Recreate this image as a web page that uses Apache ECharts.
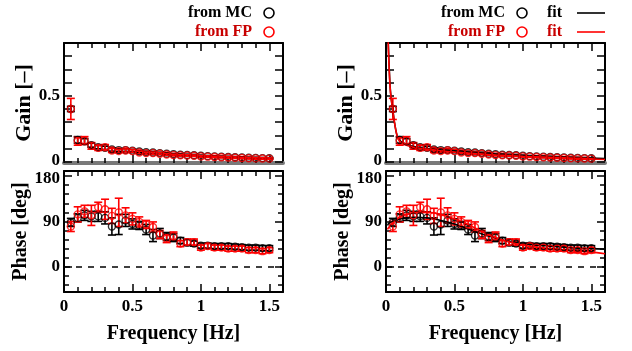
<!DOCTYPE html>
<html><head><meta charset="utf-8">
<script src="https://cdn.jsdelivr.net/npm/echarts@6/dist/echarts.min.js"></script>
<style>html,body{margin:0;padding:0;background:#fff}#c{width:632px;height:351px}</style>
</head><body><div id="c"></div>
<script>
// ---------- data ----------
const freq = [0.05,0.10,0.15,0.20,0.25,0.30,0.35,0.40,0.45,0.50,0.55,0.60,0.65,0.70,0.75,0.80,0.85,0.90,0.95,1.00,1.05,1.10,1.15,1.20,1.25,1.30,1.35,1.40,1.45,1.50];

const gainMC    = [0.40,0.165,0.155,0.125,0.11,0.105,0.092,0.088,0.088,0.084,0.077,0.072,0.07,0.065,0.06,0.056,0.053,0.051,0.049,0.045,0.042,0.04,0.038,0.036,0.034,0.032,0.03,0.029,0.027,0.026];
const gainMCErr = [0.02,0.025,0.02,0.015,0.012,0.012,0.012,0.01,0.01,0.01,0.008,0.008,0.008,0.007,0.007,0.006,0.006,0.006,0.006,0.005,0.005,0.005,0.005,0.005,0.005,0.005,0.005,0.005,0.005,0.005];
const gainFP    = [0.40,0.155,0.16,0.12,0.105,0.11,0.085,0.08,0.085,0.08,0.07,0.065,0.065,0.06,0.055,0.05,0.048,0.047,0.045,0.04,0.038,0.036,0.034,0.032,0.03,0.028,0.026,0.025,0.024,0.023];
const gainFPErr = [0.08,0.03,0.03,0.025,0.02,0.02,0.015,0.012,0.012,0.01,0.01,0.008,0.008,0.008,0.007,0.007,0.006,0.006,0.006,0.006,0.006,0.006,0.006,0.006,0.006,0.006,0.006,0.006,0.006,0.006];

const phaseMC    = [88,97,102,100,100,97,80,84,92,85,82,74,62,66,60,58,52,48,46,42,42,41,41,41,40,39,38,38,37,37];
const phaseMCErr = [8,8,10,10,10,12,17,20,12,10,8,10,12,10,8,8,6,6,5,5,5,5,5,5,5,5,5,5,5,5];
const phaseFP    = [80,104,110,102,118,114,101,108,102,95,89,84,79,64,56,61,46,49,49,38,41,38,38,36,36,36,33,33,31,33];
const phaseFPErr = [10,15,12,20,10,20,15,28,15,12,10,8,10,8,8,8,6,6,6,5,5,5,5,5,5,5,5,5,5,5];

// fit curves (right panels)
const fitFreq     = [0.012,0.015,0.02,0.03,0.04,0.05,0.06,0.08,0.10,0.15,0.20,0.30,0.40,0.50,0.60,0.70,0.80,0.90,1.00,1.10,1.20,1.30,1.40,1.50,1.60];
const fitGainMC   = [1.10,0.95,0.80,0.57,0.46,0.39,0.31,0.20,0.16,0.13,0.115,0.1,0.09,0.082,0.074,0.066,0.058,0.052,0.047,0.042,0.038,0.034,0.03,0.027,0.024];
const fitGainFP   = [1.10,0.95,0.78,0.56,0.46,0.39,0.31,0.20,0.155,0.125,0.11,0.095,0.083,0.073,0.065,0.058,0.051,0.046,0.041,0.037,0.033,0.029,0.025,0.021,0.016];
const fitPhaseMC  = [82,84,86,88,89,90,91,93,95,97,98,97,92,85,75,65,57,50,46,43,41,39,37,36,35];
const fitPhaseFP  = [74,76,78,81,84,87,89,94,99,104,107,108,104,95,84,70,58,49,43,39,36,33,31,29,26];

// ticks / labels
const xTicksMajor = [0,0.5,1,1.5];
const xTicksMinor = [0.1,0.2,0.3,0.4,0.6,0.7,0.8,0.9,1.1,1.2,1.3,1.4];
const xLabels = [0,0.5,1,1.5];
const gainTicks = [0,0.1,0.2,0.3,0.4,0.5,0.6,0.7,0.8];
const gainLabels = [0,0.5];
const phaseTicksMajor = [0,90,180];
const phaseTicksMinor = [-36,-18,18,36,54,72,108,126,144,162];
const phaseLabels = [0,90,180];

// ---------- layout / style ----------
const FONT = "'Liberation Serif', 'Times New Roman', serif";
const RED = '#ff0000', DRED = '#c80000', BLK = '#000000';
const grids = [
  {left:64, top:43, width:219, height:120, kind:'gain'},
  {left:64, top:171, width:219, height:121, kind:'phase'},
  {left:386, top:43, width:219, height:120, kind:'gain'},
  {left:386, top:171, width:219, height:121, kind:'phase'}
];
const xAxes = [], yAxes = [], series = [];

function tickAxis(base, ticks, len){
  return Object.assign({type:'value', axisLine:{show:false, onZero:false},
    axisTick:{show:true, inside:true, length:len, customValues:ticks, lineStyle:{color:BLK, width:1.5}},
    axisLabel:{show:false}, splitLine:{show:false}, minorTick:{show:false}}, base);
}
const lblStyle = {show:true, color:BLK, fontFamily:FONT, fontWeight:'bold', fontSize:17};
const richLbl = {
  t:{fontFamily:FONT, fontWeight:'bold', fontSize:17, color:BLK, padding:[6,0,0,0]},
  b:{fontFamily:FONT, fontWeight:'bold', fontSize:17, color:BLK, padding:[0,0,3,0]}
};

grids.forEach((g, gi) => {
  const isGain = g.kind === 'gain';
  const xr = {gridIndex:gi, min:0, max:1.6};
  const yr = isGain ? {gridIndex:gi, min:-0.01, max:0.9} : {gridIndex:gi, min:-50, max:190};
  const xMain = xAxes.length;
  const bx = tickAxis(Object.assign({position:'bottom'}, xr), xTicksMajor, 8);
  bx.axisLine = isGain ? {show:true, onZero:false, lineStyle:{color:'#7a7a7a', width:4}}
                       : {show:true, onZero:false, lineStyle:{color:BLK, width:2}};
  if (!isGain) {
    bx.axisLabel = Object.assign({}, lblStyle, {customValues:xLabels, formatter:v => String(v), margin:6});
    bx.name = 'Frequency [Hz]'; bx.nameLocation = 'middle'; bx.nameGap = 32;
    bx.nameTextStyle = {color:BLK, fontFamily:FONT, fontWeight:'bold', fontSize:20};
  }
  xAxes.push(bx);
  xAxes.push(tickAxis(Object.assign({position:'bottom'}, xr), xTicksMinor, 5));
  const tx = tickAxis(Object.assign({position:'top'}, xr), xTicksMajor, 8);
  tx.axisLine = {show:true, onZero:false, lineStyle:{color:BLK, width:2}};
  xAxes.push(tx);
  xAxes.push(tickAxis(Object.assign({position:'top'}, xr), xTicksMinor, 5));

  const yMain = yAxes.length;
  const ly = tickAxis(Object.assign({position:'left'}, yr), isGain ? gainTicks : phaseTicksMajor, 8);
  ly.axisLine = {show:true, onZero:false, lineStyle:{color:BLK, width:2}};
  ly.axisLabel = Object.assign({}, lblStyle, {customValues: isGain ? gainLabels : phaseLabels, margin:4, rich:richLbl,
    formatter: v => (!isGain && v === 180) ? '{t|180}' : (isGain && v === 0) ? '{b|0}' : String(v)});
  ly.name = isGain ? 'Gain [–]' : 'Phase [deg]';
  ly.nameLocation = 'middle'; ly.nameGap = 28;
  ly.nameTextStyle = {color:BLK, fontFamily:FONT, fontWeight:'bold', fontSize: isGain ? 22 : 20};
  yAxes.push(ly);
  if (!isGain) yAxes.push(tickAxis(Object.assign({position:'left'}, yr), phaseTicksMinor, 5));
  const ry = tickAxis(Object.assign({position:'right'}, yr), isGain ? gainTicks : phaseTicksMajor, 8);
  ry.axisLine = {show:true, onZero:false, lineStyle:{color:BLK, width:2}};
  yAxes.push(ry);
  if (!isGain) yAxes.push(tickAxis(Object.assign({position:'right'}, yr), phaseTicksMinor, 5));

  const right = gi >= 2;
  const sets = isGain
    ? [[gainMC, gainMCErr, BLK, fitGainMC], [gainFP, gainFPErr, RED, fitGainFP]]
    : [[phaseMC, phaseMCErr, BLK, fitPhaseMC], [phaseFP, phaseFPErr, RED, fitPhaseFP]];

  if (!isGain) {
    series.push({type:'line', xAxisIndex:xMain, yAxisIndex:yMain, data:[], silent:true,
      markLine:{silent:true, symbol:'none', label:{show:false},
        lineStyle:{color:BLK, width:1.5, type:[6,6]}, data:[{yAxis:0}]}});
  }
  sets.forEach(([vals, errs, col, fit]) => {
    series.push({
      type:'custom', xAxisIndex:xMain, yAxisIndex:yMain, silent:true, z:3,
      data: freq.map((f,i)=>[f, vals[i], errs[i]]),
      renderItem: (params, api) => {
        const x = api.value(0), y = api.value(1), e = api.value(2);
        const a = api.coord([x, y-e]), b = api.coord([x, y+e]);
        const st = {stroke:col, lineWidth:1.6};
        return {type:'group', children:[
          {type:'line', shape:{x1:a[0], y1:a[1], x2:b[0], y2:b[1]}, style:st},
          {type:'line', shape:{x1:a[0]-4, y1:a[1], x2:a[0]+4, y2:a[1]}, style:st},
          {type:'line', shape:{x1:b[0]-4, y1:b[1], x2:b[0]+4, y2:b[1]}, style:st}
        ]};
      }
    });
    series.push({type:'scatter', xAxisIndex:xMain, yAxisIndex:yMain, silent:true, z:4,
      symbol:'circle', symbolSize:7, itemStyle:{color:'rgba(0,0,0,0)', borderColor:col, borderWidth:1.4},
      data: freq.map((f,i)=>[f, vals[i]])});
    if (right) {
      series.push({type:'line', xAxisIndex:xMain, yAxisIndex:yMain, silent:true, z:3,
        showSymbol:false, smooth:0.3, clip:true, lineStyle:{color:col, width:1.6},
        data: fitFreq.map((f,i)=>[f, fit[i]])});
    }
  });
});

// legends (decorative text + keys)
const lt = (txt, x, y, col, align) => ({type:'text', x, y, style:{text:txt, fill:col,
  fontFamily:FONT, fontWeight:'bold', fontSize:16, textAlign:align, textVerticalAlign:'middle'}});
const lc = (x, y, col) => ({type:'circle', shape:{cx:x, cy:y, r:5}, style:{fill:'none', stroke:col, lineWidth:1.6}});
const ll = (x1, x2, y, col) => ({type:'line', shape:{x1, y1:y, x2, y2:y}, style:{stroke:col, lineWidth:1.6}});
const graphic = [
  lt('from MC', 252, 13, BLK, 'right'), lc(269, 13, BLK),
  lt('from FP', 252, 32, DRED, 'right'), lc(269, 32, RED),
  lt('from MC', 505, 13, BLK, 'right'), lc(522, 13, BLK), lt('fit', 547, 13, BLK, 'left'), ll(577, 605, 13, BLK),
  lt('from FP', 505, 32, DRED, 'right'), lc(522, 32, RED), lt('fit', 547, 32, DRED, 'left'), ll(577, 605, 32, RED)
];

const chart = echarts.init(document.getElementById('c'), null, {renderer:'canvas', width:632, height:351});
chart.setOption({
  animation:false, backgroundColor:'#fff',
  grid: grids.map(g => ({left:g.left, top:g.top, width:g.width, height:g.height, show:false})),
  xAxis: xAxes, yAxis: yAxes, series, graphic
});
</script>
</body></html>
